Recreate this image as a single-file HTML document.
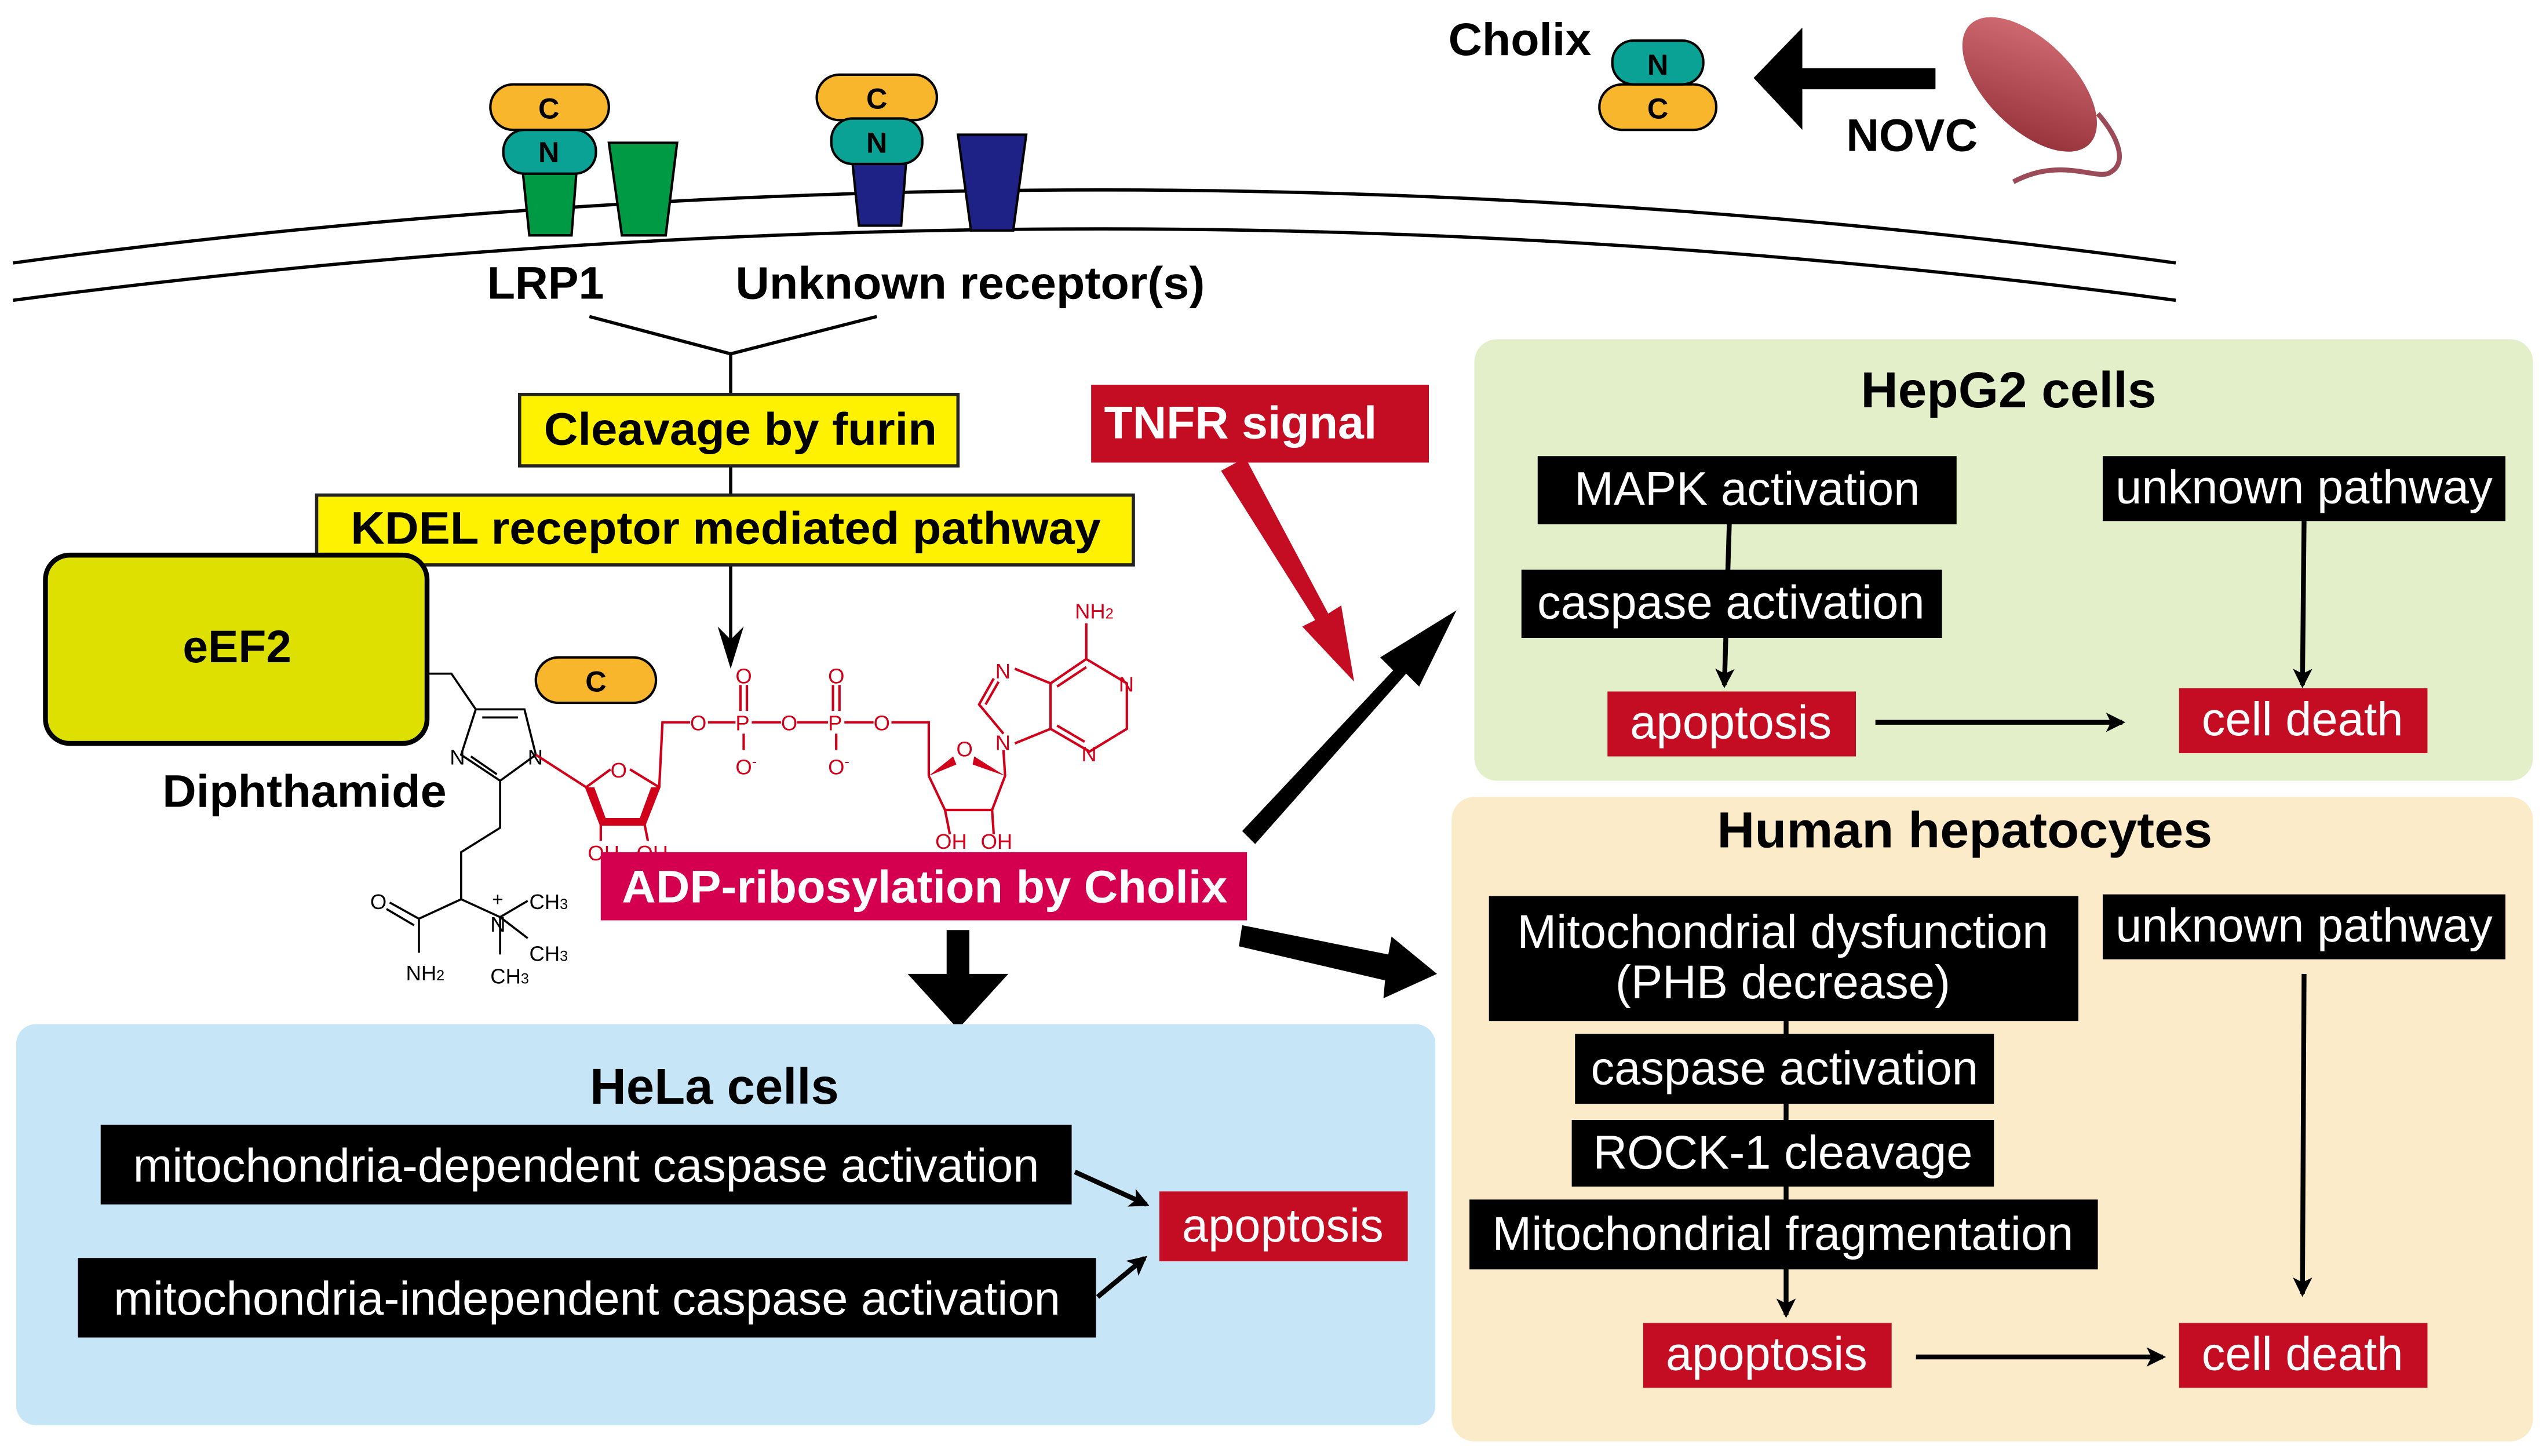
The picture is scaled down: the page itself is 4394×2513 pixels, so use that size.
<!DOCTYPE html>
<html><head><meta charset="utf-8"><style>
html,body{margin:0;padding:0;background:#fff}
svg{display:block}
text{font-family:"Liberation Sans",Arial,sans-serif}
</style></head><body>
<svg width="4394" height="2513" viewBox="0 0 1568 897" preserveAspectRatio="none" xmlns="http://www.w3.org/2000/svg">
<defs>
<marker id="ah" markerWidth="12" markerHeight="12" refX="10" refY="6" orient="auto" markerUnits="userSpaceOnUse"><path d="M0,0 L12,6 L0,12 L3,6 z" fill="#000"/></marker>
<linearGradient id="bac" x1="0" y1="0" x2="1" y2="1"><stop offset="0" stop-color="#d9737a"/><stop offset="1" stop-color="#8e2a33"/></linearGradient>
</defs>
<!-- membrane -->
<path d="M8,162 Q680,72 1340,162" fill="none" stroke="#000" stroke-width="2"/>
<path d="M8,185 Q680,97 1340,185" fill="none" stroke="#000" stroke-width="2"/>
<!-- receptors -->
<path d="M322,106 L355,106 L352,145 L326,145z" fill="#009a44" stroke="#000" stroke-width="1.5"/>
<path d="M375,88 L417,88 L410,145 L383,145z" fill="#009a44" stroke="#000" stroke-width="1.5"/>
<path d="M525,100 L558,100 L555,139 L529,139z" fill="#1e2287" stroke="#000" stroke-width="1.5"/>
<path d="M590,83 L632,83 L624,142 L598,142z" fill="#1e2287" stroke="#000" stroke-width="1.5"/>
<rect x="302" y="52" width="73" height="28" rx="14" fill="#f8b62c" stroke="#000" stroke-width="1.5"/>
<rect x="310" y="80" width="57" height="27" rx="13" fill="#0aa294" stroke="#000" stroke-width="1.5"/>
<rect x="503" y="46" width="74" height="28" rx="14" fill="#f8b62c" stroke="#000" stroke-width="1.5"/>
<rect x="512" y="73" width="56" height="28" rx="13" fill="#0aa294" stroke="#000" stroke-width="1.5"/>
<g font-size="18" font-weight="bold" text-anchor="middle">
<text x="338" y="73">C</text><text x="338" y="100">N</text>
<text x="540" y="67">C</text><text x="540" y="94">N</text>
</g>
<!-- cholix -->
<rect x="985" y="52" width="72" height="28" rx="14" fill="#f8b62c" stroke="#000" stroke-width="1.5"/>
<rect x="993" y="25" width="56" height="27" rx="13" fill="#0aa294" stroke="#000" stroke-width="1.5"/>
<text x="1021" y="46" font-size="18" font-weight="bold" text-anchor="middle">N</text>
<text x="1021" y="73" font-size="18" font-weight="bold" text-anchor="middle">C</text>
<text x="892" y="34" font-size="28" font-weight="bold" textLength="88" lengthAdjust="spacingAndGlyphs">Cholix</text>
<path d="M1080,48 L1110,17 L1110,42 L1192,42 L1192,55 L1110,55 L1110,80z" fill="#000"/>
<text x="1137" y="93" font-size="28" font-weight="bold" textLength="81" lengthAdjust="spacingAndGlyphs">NOVC</text>
<path d="M1292,70 C1305,85 1310,100 1300,106 C1292,112 1270,96 1240,112" fill="none" stroke="#9b4a58" stroke-width="3"/>
<ellipse cx="1250" cy="52" rx="52" ry="27" transform="rotate(45 1250 52)" fill="url(#bac)"/>
<!-- labels -->
<text x="300" y="184" font-size="28" font-weight="bold" textLength="72" lengthAdjust="spacingAndGlyphs">LRP1</text>
<text x="453" y="184" font-size="28" font-weight="bold" textLength="289" lengthAdjust="spacingAndGlyphs">Unknown receptor(s)</text>
<path d="M363,195 L450,218 L540,195 M450,218 L450,404" fill="none" stroke="#000" stroke-width="2"/>
<path d="M442,386 L450,412 L458,386 L450,394z" fill="#000"/>
<rect x="320" y="243" width="270" height="44" fill="#fff200" stroke="#222" stroke-width="2"/>
<text x="335" y="274" font-size="28" font-weight="bold" textLength="242" lengthAdjust="spacingAndGlyphs">Cleavage by furin</text>
<rect x="195" y="305" width="503" height="43" fill="#fff200" stroke="#222" stroke-width="2"/>
<text x="216" y="335" font-size="28" font-weight="bold" textLength="462" lengthAdjust="spacingAndGlyphs">KDEL receptor mediated pathway</text>
<rect x="28" y="342" width="235" height="116" rx="15" fill="#dde000" stroke="#000" stroke-width="3"/>
<text x="146" y="408" font-size="28" font-weight="bold" text-anchor="middle">eEF2</text>
<text x="100" y="497" font-size="28" font-weight="bold" textLength="175" lengthAdjust="spacingAndGlyphs">Diphthamide</text>
<rect x="330" y="405" width="74" height="28" rx="14" fill="#f8b62c" stroke="#000" stroke-width="1.5"/>
<text x="367" y="426" font-size="18" font-weight="bold" text-anchor="middle">C</text>
<!-- chemistry black -->
<g fill="none" stroke="#000" stroke-width="1.3">
<path d="M263,415 L278,415 L293,437 L323,437 L330,465 L308,481 L284,465 L293,437"/>
<path d="M297,442 L319,442 M290,466 L306,477"/>
<path d="M308,481 L308,510 L284,525 L284,554 L308,565 M284,554 L258,566 L240,556 M255,570 L238,560 M258,566 L258,587 M308,565 L325,555 M308,565 L325,578 M308,565 L308,588"/>
</g>
<g font-size="13" fill="#000">
<text x="228" y="560">O</text><text x="250" y="604">NH<tspan font-size="9">2</tspan></text>
<text x="302" y="574">N</text><text x="303" y="558" font-size="12">+</text>
<text x="326" y="560">CH<tspan font-size="9">3</tspan></text><text x="326" y="592">CH<tspan font-size="9">3</tspan></text><text x="302" y="606">CH<tspan font-size="9">3</tspan></text>
<text x="325" y="471">N</text><text x="277" y="471">N</text>
</g>
<!-- chemistry red -->
<g fill="none" stroke="#d0001a" stroke-width="1.5">
<path d="M330,465 L361,485 L376,474 M388,474 L406,485 L397,508 L370,508 L361,485 M406,485 L408,445 L425,445 M436,445 L453,445 M463,445 L481,445 M491,445 L510,445 M520,445 L538,445 M549,445 L572,445 L572,478 M572,478 L582,499 L611,499 L619,478 L618,462 M370,508 L370,518 M397,508 L399,518 M582,499 L585,514 M611,499 L612,514"/>
<path d="M456,422 L456,438 M460,422 L460,438 M458,452 L458,462 M513,422 L513,438 M517,422 L517,438 M515,452 L515,462"/>
<path d="M618,452 L603,434 L612,418 M625,412 L647,421 L669,406 L694,421 L694,449 L671,463 L647,449 L647,421 M647,449 L625,458 M669,406 L669,384 M607,434 L615,420 M651,423 L669,411 M651,447 L668,457"/>
</g>
<path d="M361,485 L370,508 L397,508 L406,485 L401,485 L394,504 L373,504 L366,485z" fill="#d0001a"/>
<path d="M572,478 L587,466 L589,471z M619,478 L600,466 L599,471z" fill="#d0001a"/>
<g font-size="13" fill="#d0001a">
<text x="376" y="479">O</text><text x="425" y="450">O</text><text x="453" y="450">P</text><text x="481" y="450">O</text><text x="510" y="450">P</text><text x="538" y="450">O</text>
<text x="453" y="421">O</text><text x="510" y="421">O</text><text x="453" y="477">O<tspan font-size="9" dy="-5">-</tspan></text><text x="510" y="477">O<tspan font-size="9" dy="-5">-</tspan></text>
<text x="589" y="466">O</text><text x="613" y="462">N</text><text x="613" y="418">N</text><text x="689" y="426">N</text><text x="666" y="469">N</text>
<text x="662" y="381">NH<tspan font-size="9">2</tspan></text>
<text x="362" y="530">OH</text><text x="392" y="530">OH</text><text x="576" y="523">OH</text><text x="604" y="523">OH</text>
</g>
<!-- ADP box -->
<rect x="370" y="525" width="398" height="42" fill="#d4004f"/>
<text x="383" y="556" font-size="28" font-weight="bold" fill="#fff" textLength="373" lengthAdjust="spacingAndGlyphs">ADP-ribosylation by Cholix</text>
<!-- TNFR -->
<rect x="672" y="237" width="208" height="48" fill="#c40d23"/>
<text x="680" y="270" font-size="28" font-weight="bold" fill="#fff" textLength="168" lengthAdjust="spacingAndGlyphs">TNFR signal</text>
<path d="M752,290 L767,282 L818,378 L826,373 L834,420 L802,386 L810,382z" fill="#c40d23"/>
<!-- black arrows -->
<path d="M765,512 L858,413 L850,405 L897,376 L874,423 L866,415 L773,520z" fill="#000"/>
<path d="M765,570 L855,588 L857,577 L885,600 L852,615 L853,604 L763,583z" fill="#000"/>
<path d="M583,573 L597,573 L597,600 L621,600 L590,634 L559,600 L583,600z" fill="#000"/>
<!-- HeLa -->
<rect x="10" y="631" width="874" height="247" rx="12" fill="#c6e6f8"/>
<text x="440" y="680" font-size="31" font-weight="bold" text-anchor="middle">HeLa cells</text>
<rect x="62" y="693" width="598" height="49" fill="#000"/>
<text x="82" y="728" font-size="29" fill="#fff" textLength="558" lengthAdjust="spacingAndGlyphs">mitochondria-dependent caspase activation</text>
<rect x="48" y="775" width="627" height="49" fill="#000"/>
<text x="70" y="810" font-size="29" fill="#fff" textLength="583" lengthAdjust="spacingAndGlyphs">mitochondria-independent caspase activation</text>
<rect x="714" y="734" width="153" height="43" fill="#c40d23"/>
<text x="790" y="765" font-size="29" fill="#fff" text-anchor="middle">apoptosis</text>
<path d="M662,722 L706,742" stroke="#000" stroke-width="3" marker-end="url(#ah)"/>
<path d="M676,799 L705,775" stroke="#000" stroke-width="3" marker-end="url(#ah)"/>
<!-- HepG2 -->
<rect x="908" y="209" width="652" height="272" rx="14" fill="#e2efc9"/>
<text x="1237" y="251" font-size="31" font-weight="bold" text-anchor="middle" textLength="182" lengthAdjust="spacingAndGlyphs">HepG2 cells</text>
<path d="M1065,323 L1062,422" stroke="#000" stroke-width="3" marker-end="url(#ah)"/>
<path d="M1419,321 L1418,422" stroke="#000" stroke-width="3" marker-end="url(#ah)"/>
<path d="M1155,445 L1307,445" stroke="#000" stroke-width="3" marker-end="url(#ah)"/>
<rect x="947" y="281" width="258" height="42" fill="#000"/>
<text x="1076" y="311" font-size="29" fill="#fff" text-anchor="middle">MAPK activation</text>
<rect x="1295" y="281" width="248" height="40" fill="#000"/>
<text x="1419" y="310" font-size="29" fill="#fff" text-anchor="middle">unknown pathway</text>
<rect x="937" y="351" width="259" height="42" fill="#000"/>
<text x="1066" y="381" font-size="29" fill="#fff" text-anchor="middle">caspase activation</text>
<rect x="990" y="426" width="153" height="40" fill="#c40d23"/>
<text x="1066" y="455" font-size="29" fill="#fff" text-anchor="middle">apoptosis</text>
<rect x="1342" y="424" width="153" height="40" fill="#c40d23"/>
<text x="1418" y="453" font-size="29" fill="#fff" text-anchor="middle">cell death</text>
<!-- Human hepatocytes -->
<rect x="894" y="491" width="666" height="397" rx="14" fill="#fbebc8"/>
<text x="1210" y="522" font-size="31" font-weight="bold" text-anchor="middle" textLength="305" lengthAdjust="spacingAndGlyphs">Human hepatocytes</text>
<path d="M1100,629 L1100,810" stroke="#000" stroke-width="3" marker-end="url(#ah)"/>
<path d="M1419,600 L1418,797" stroke="#000" stroke-width="3" marker-end="url(#ah)"/>
<path d="M1180,836 L1332,836" stroke="#000" stroke-width="3" marker-end="url(#ah)"/>
<rect x="917" y="552" width="363" height="77" fill="#000"/>
<text x="1098" y="584" font-size="29" fill="#fff" text-anchor="middle">Mitochondrial dysfunction</text>
<text x="1098" y="615" font-size="29" fill="#fff" text-anchor="middle">(PHB decrease)</text>
<rect x="1295" y="551" width="248" height="40" fill="#000"/>
<text x="1419" y="580" font-size="29" fill="#fff" text-anchor="middle">unknown pathway</text>
<rect x="970" y="637" width="258" height="43" fill="#000"/>
<text x="1099" y="668" font-size="29" fill="#fff" text-anchor="middle">caspase activation</text>
<rect x="968" y="690" width="260" height="41" fill="#000"/>
<text x="1098" y="720" font-size="29" fill="#fff" text-anchor="middle">ROCK-1 cleavage</text>
<rect x="905" y="739" width="387" height="43" fill="#000"/>
<text x="1098" y="770" font-size="29" fill="#fff" text-anchor="middle">Mitochondrial fragmentation</text>
<rect x="1012" y="815" width="153" height="40" fill="#c40d23"/>
<text x="1088" y="844" font-size="29" fill="#fff" text-anchor="middle">apoptosis</text>
<rect x="1342" y="815" width="153" height="40" fill="#c40d23"/>
<text x="1418" y="844" font-size="29" fill="#fff" text-anchor="middle">cell death</text>
</svg>
</body></html>
